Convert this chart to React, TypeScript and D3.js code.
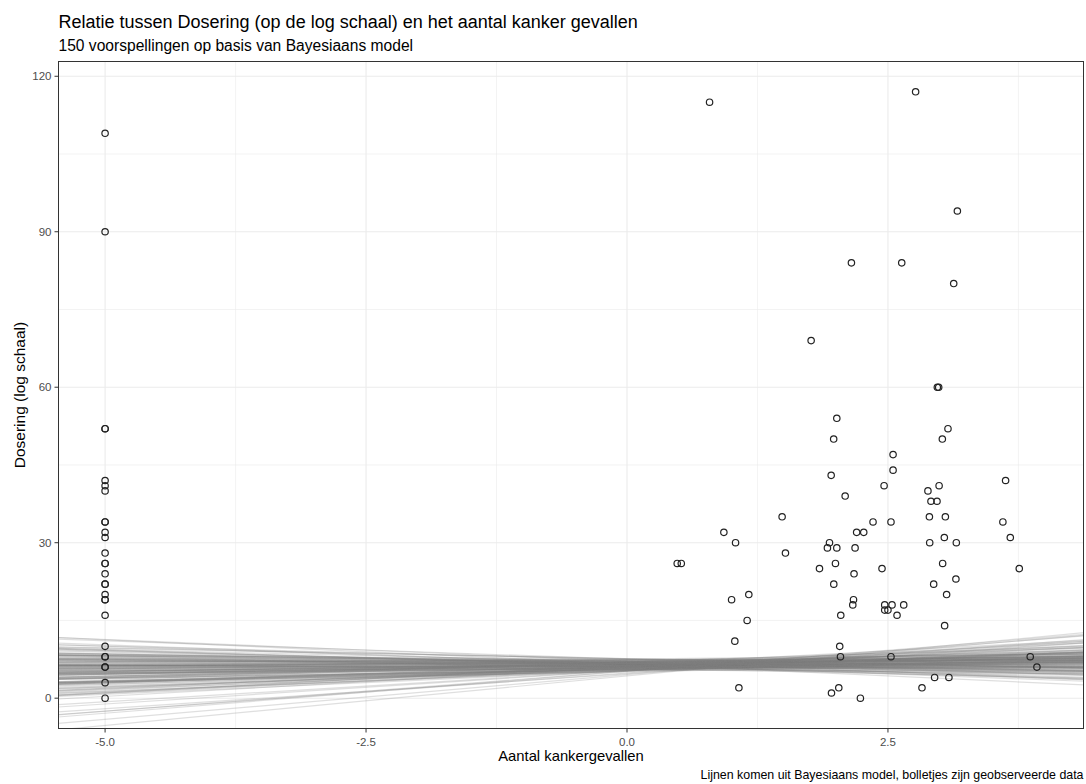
import React from "react";
import * as d3 from "d3";

// ---------- DATA ----------
const titleText = "Relatie tussen Dosering (op de log schaal) en het aantal kanker gevallen";
const subtitleText = "150 voorspellingen op basis van Bayesiaans model";
const xTitle = "Aantal kankergevallen";
const yTitle = "Dosering (log schaal)";
const captionText = "Lijnen komen uit Bayesiaans model, bolletjes zijn geobserveerde data";

const xTicks = [-5, -2.5, 0, 2.5];
const xMinorTicks = [-3.75, -1.25, 1.25, 3.75];
const yTicks = [0, 30, 60, 90, 120];
const yMinorTicks = [15, 45, 75, 105];

// observed points: x = Aantal kankergevallen (log), y = Dosering
const observedCases = [
  -5, -5, -5, -5, -5, -5, -5, -5, -5, -5, -5, -5, -5, -5,
  -5, -5, -5, -5, -5, -5, -5, -5, -5, -5, -5, -5, -5, -5,
  0.791, 2.765, 3.165, 2.15, 2.632, 3.13, 1.764, 2.973, 2.986, 2.01,
  3.075, 1.98, 3.021, 2.549, 2.549, 1.956, 3.627, 2.463, 2.99, 2.883,
  2.09, 2.912, 2.97, 1.486, 2.897, 3.05, 2.357, 2.529, 3.601, 0.928,
  2.2, 2.268, 3.04, 3.672, 1.04, 1.94, 2.9, 3.155, 1.92, 2.01,
  2.185, 1.518, 0.481, 0.52, 1.997, 3.024, 1.844, 2.443, 3.758, 2.175,
  3.151, 1.981, 2.938, 1.167, 3.062, 1.002, 2.17, 2.163, 2.469, 2.539,
  2.651, 2.469, 2.5, 2.048, 2.587, 1.151, 3.043, 1.033, 2.038, 2.045,
  2.529, 3.863, 3.927, 2.947, 3.084, 1.072, 2.029, 2.826, 1.959, 2.236,
];
const observedDose = [
  109, 90, 52, 52, 42, 41, 40, 34, 34, 32, 31, 28, 26, 26,
  24, 22, 22, 20, 19, 19, 16, 10, 8, 8, 6, 6, 3, 0,
  115, 117, 94, 84, 84, 80, 69, 60, 60, 54,
  52, 50, 50, 47, 44, 43, 42, 41, 41, 40,
  39, 38, 38, 35, 35, 35, 34, 34, 34, 32,
  32, 32, 31, 31, 30, 30, 30, 30, 29, 29,
  29, 28, 26, 26, 26, 26, 25, 25, 25, 24,
  23, 22, 22, 20, 20, 19, 19, 18, 18, 18,
  18, 17, 17, 16, 16, 15, 14, 11, 10, 8,
  8, 8, 6, 4, 4, 2, 2, 2, 1, 0,
];

// posterior draws: level of the line at x = linePivot, and slope
const linePivot = 0.4;
const lineLevel = [
  6.45, 5.85, 7.05, 6.25, 5.45, 7.25, 6.65, 6.05, 5.65, 6.85,
  7.45, 6.25, 5.85, 6.65, 7.05, 5.25, 6.45, 5.65, 6.85, 6.05,
  6.25, 7.65, 6.45, 5.45, 6.65, 7.25, 6.05, 5.85, 6.85, 6.25,
  7.05, 5.65, 6.45, 6.65, 7.45, 5.85, 6.25, 6.85, 5.25, 6.45,
  6.05, 7.05, 6.65, 5.65, 6.25, 7.25, 6.45, 5.85, 6.85, 6.05,
  5.45, 6.65, 7.05, 6.25, 5.65, 6.45, 7.45, 6.05, 6.85, 5.85,
  6.65, 6.25, 7.25, 5.65, 6.45, 5.05, 6.85, 6.05, 6.65, 6.25,
  7.05, 5.85, 6.45, 7.45, 5.65, 6.65, 6.05, 6.85, 6.25, 7.25,
  5.85, 6.45, 5.65, 7.05, 6.65, 6.05, 6.85, 6.25, 5.45, 6.45,
  7.25, 5.85, 6.65, 6.25, 7.05, 5.65, 6.45, 6.05, 6.85, 5.45,
  6.65, 6.25, 7.45, 5.85, 6.45, 7.05, 5.65, 6.65, 6.05, 6.85,
  6.25, 7.25, 5.85, 6.45, 6.85, 5.25, 6.05, 6.65, 5.65, 7.05,
  6.45, 5.85, 6.25, 7.45, 6.65, 6.05, 6.85, 5.65, 6.45, 7.05,
  6.25, 6.65, 5.85, 7.25, 6.05, 6.85, 5.65, 6.45, 6.25, 7.05,
  5.85, 6.65, 6.05, 7.45, 6.45, 5.65, 6.85, 6.25, 5.85, 6.65,
];
const lineSlope = [
  0.12, -0.31, 0.45, 0.08, -0.18, 0.62, 0.27, -0.05, 0.91, 0.33,
  -0.42, 0.15, 0.54, -0.22, 0.03, 1.35, 0.41, -0.12, 0.19, 0.74,
  -0.36, 0.22, 0.58, -0.08, 0.37, 0.05, -0.61, 0.48, 0.11, 0.86,
  -0.27, 0.31, 0.01, 0.66, -0.15, 1.62, 0.24, -0.47, 0.39, 0.14,
  -0.02, 0.52, -0.33, 0.79, 0.18, -0.71, 0.29, 0.07, 1.08, -0.19,
  0.43, 0.26, -0.09, 0.57, 0.35, -0.39, 0.09, 0.95, -0.24, 0.17,
  0.68, -0.55, 0.21, 0.47, -0.13, 1.91, 0.04, 0.32, -0.29, 0.61,
  0.13, -0.06, 0.84, 0.28, -0.44, 0.38, 0.16, -0.83, 0.55, 0.02,
  1.21, -0.17, 0.44, 0.25, -0.35, 0.71, 0.1, -0.01, 0.5, 0.3,
  -0.52, 0.2, 1.02, -0.26, 0.36, 0.06, -0.66, 0.63, 0.23, 1.47,
  -0.11, 0.42, -0.4, 0.76, 0.14, -0.21, 0.34, 0.89, -0.07, 0.53,
  -0.93, 0.18, 0.46, -0.3, 0.12, 1.73, 0.27, -0.16, 0.6, 0.08,
  -0.48, 0.37, 0.97, -0.03, 0.22, -0.58, 0.49, 0.15, 1.13, -0.23,
  0.4, 0.05, -0.37, 0.69, 0.26, -0.1, 0.81, 0.31, -0.75, 0.19,
  1.29, -0.14, 0.56, 0.09, -0.45, 0.64, 0.33, -0.2, 1.55, 0.0,
];

// ---------- LAYOUT ----------
const W = 1086;
const H = 784;
const panel = { left: 58.5, right: 1083.5, top: 61.5, bottom: 728.5 };
const FONT = "'Liberation Sans', Arial, Helvetica, sans-serif";

function expand(ext: [number, number], f = 0.05): [number, number] {
  const r = ext[1] - ext[0];
  return [ext[0] - r * f, ext[1] + r * f];
}

export default function App() {
  const xDomain = expand(d3.extent(observedCases) as [number, number]);
  const yDomain = expand(d3.extent(observedDose) as [number, number]);
  const x = d3.scaleLinear().domain(xDomain).range([panel.left, panel.right]);
  const y = d3.scaleLinear().domain(yDomain).range([panel.bottom, panel.top]);

  const tickLen = 4;
  const gridMajor = "#ebebeb";
  const lineXs = [xDomain[0] - 1, xDomain[1] + 1];

  return (
    <svg
      width={W}
      height={H}
      style={{ position: "absolute", left: 0, top: 0, background: "#fff" }}
      fontFamily={FONT}
    >
      <defs>
        <clipPath id="panelClip">
          <rect x={panel.left} y={panel.top} width={panel.right - panel.left} height={panel.bottom - panel.top} />
        </clipPath>
      </defs>
      <rect x={0} y={0} width={W} height={H} fill="#fff" />

      {/* grid */}
      <g>
        {xMinorTicks.map((t) => (
          <line key={"xm" + t} x1={x(t)} x2={x(t)} y1={panel.top} y2={panel.bottom} stroke={gridMajor} strokeWidth={0.6} />
        ))}
        {yMinorTicks.map((t) => (
          <line key={"ym" + t} x1={panel.left} x2={panel.right} y1={y(t)} y2={y(t)} stroke={gridMajor} strokeWidth={0.6} />
        ))}
        {xTicks.map((t) => (
          <line key={"xg" + t} x1={x(t)} x2={x(t)} y1={panel.top} y2={panel.bottom} stroke={gridMajor} strokeWidth={1.1} />
        ))}
        {yTicks.map((t) => (
          <line key={"yg" + t} x1={panel.left} x2={panel.right} y1={y(t)} y2={y(t)} stroke={gridMajor} strokeWidth={1.1} />
        ))}
      </g>

      {/* model lines */}
      <g clipPath="url(#panelClip)">
        {lineLevel.map((lv, i) => {
          const b = lineSlope[i];
          const pts = lineXs.map((xx) => lv + b * (xx - linePivot));
          const d = d3
            .line<number>()
            .x((_, j) => x(lineXs[j]))
            .y((v) => y(v))(pts);
          return <path key={"l" + i} d={d || ""} fill="none" stroke="#7f7f7f" strokeOpacity={0.25} strokeWidth={1.2} />;
        })}
      </g>

      {/* points */}
      <g>
        {observedCases.map((cx, i) => (
          <circle key={"p" + i} cx={x(cx)} cy={y(observedDose[i])} r={3.2} fill="none" stroke="#222" strokeWidth={1.2} />
        ))}
      </g>

      {/* panel border */}
      <rect
        x={panel.left}
        y={panel.top}
        width={panel.right - panel.left}
        height={panel.bottom - panel.top}
        fill="none"
        stroke="#333"
        strokeWidth={1}
      />

      {/* axes */}
      <g>
        {yTicks.map((t) => (
          <g key={"yt" + t}>
            <line x1={panel.left - tickLen} x2={panel.left} y1={y(t)} y2={y(t)} stroke="#333" strokeWidth={1} />
            <text x={panel.left - tickLen - 3} y={y(t)} dy="0.35em" textAnchor="end" fontSize={11.5} fill="#4d4d4d">
              {t}
            </text>
          </g>
        ))}
        {xTicks.map((t) => (
          <g key={"xt" + t}>
            <line x1={x(t)} x2={x(t)} y1={panel.bottom} y2={panel.bottom + tickLen} stroke="#333" strokeWidth={1} />
            <text x={x(t)} y={panel.bottom + tickLen + 13} textAnchor="middle" fontSize={11.5} fill="#4d4d4d">
              {t.toFixed(1)}
            </text>
          </g>
        ))}
      </g>

      {/* titles */}
      <text x={panel.left} y={28} fontSize={18} fill="#000">
        {titleText}
      </text>
      <text x={panel.left} y={51} fontSize={15.6} fill="#000">
        {subtitleText}
      </text>
      <text x={(panel.left + panel.right) / 2} y={761} textAnchor="middle" fontSize={14.8} fill="#000">
        {xTitle}
      </text>
      <text
        transform={`translate(25, ${(panel.top + panel.bottom) / 2}) rotate(-90)`}
        textAnchor="middle"
        fontSize={15.5}
        fill="#000"
      >
        {yTitle}
      </text>
      <text x={panel.right} y={779} textAnchor="end" fontSize={12.4} fill="#000">
        {captionText}
      </text>
    </svg>
  );
}
